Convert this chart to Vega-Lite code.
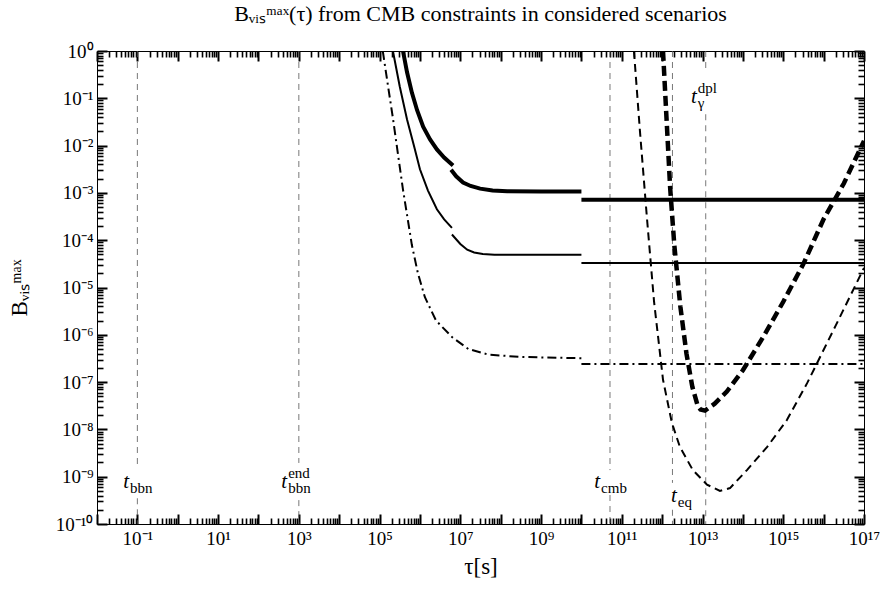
{
"$schema": "https://vega.github.io/schema/vega-lite/v6.json",
"width": 767, "height": 473, "autosize": "none",
"padding": {"left": 97, "top": 51, "right": 18, "bottom": 72},
"background": "white",
"title": {"text": "Bᵥᵢₛᵐᵃˣ(τ) from CMB constraints  in considered  scenarios", "font": "Liberation Serif", "fontSize": 22, "fontWeight": "normal", "color": "black", "anchor": "middle", "offset": 16},
"config": {
  "view": {"stroke": "black", "strokeWidth": 1},
  "axis": {"grid": false, "domain": false, "labelFont": "Liberation Serif", "labelFontSize": 19, "labelColor": "black", "titleFont": "Liberation Serif", "titleFontSize": 23, "titleFontWeight": "normal", "titleColor": "black", "labelOverlap": false, "labelFlush": false}
},
"datasets": {
  "vlines": [
    {"tau": 0.1, "B": 1, "B2": 1.78e-9}, {"tau": 0.1, "B": 3.5e-10, "B2": 1e-10},
    {"tau": 1000, "B": 1, "B2": 1.95e-9}, {"tau": 1000, "B": 3.2e-10, "B2": 1e-10},
    {"tau": 5.1e10, "B": 1, "B2": 1.38e-9}, {"tau": 5.1e10, "B": 4.1e-10, "B2": 1e-10},
    {"tau": 1.8e12, "B": 1, "B2": 7.4e-10}, {"tau": 1.8e12, "B": 2e-10, "B2": 1e-10},
    {"tau": 1.2e13, "B": 1, "B2": 0.41}, {"tau": 1.2e13, "B": 0.046, "B2": 1e-10}
  ],
  "labels": [
    {"tau": 0.062, "B": 5.75e-10, "sub": "bbn", "sup": ""},
    {"tau": 513, "B": 5.75e-10, "sub": "bbn", "sup": "end"},
    {"tau": 2.9e10, "B": 5.75e-10, "sub": "cmb", "sup": ""},
    {"tau": 2.3e12, "B": 2.95e-10, "sub": "eq", "sup": ""},
    {"tau": 7.2e12, "B": 0.081, "sub": "γ", "sup": "dpl"}
  ],
  "curves": [
    {"s": "s1", "seg": "a", "tau": 3.8e5, "B": 1},
    {"s": "s1", "seg": "a", "tau": 4.79e5, "B": 0.355},
    {"s": "s1", "seg": "a", "tau": 6.31e5, "B": 0.132},
    {"s": "s1", "seg": "a", "tau": 8.5e5, "B": 0.056},
    {"s": "s1", "seg": "a", "tau": 1.2e6, "B": 0.0251},
    {"s": "s1", "seg": "a", "tau": 1.78e6, "B": 0.0135},
    {"s": "s1", "seg": "a", "tau": 2.63e6, "B": 8.3e-3},
    {"s": "s1", "seg": "a", "tau": 3.98e6, "B": 5.6e-3},
    {"s": "s1", "seg": "a", "tau": 6.6e6, "B": 3.8e-3},
    {"s": "s1", "seg": "b", "tau": 5.9e6, "B": 3.1e-3},
    {"s": "s1", "seg": "b", "tau": 7.9e6, "B": 2.24e-3},
    {"s": "s1", "seg": "b", "tau": 1.17e7, "B": 1.66e-3},
    {"s": "s1", "seg": "b", "tau": 1.8e7, "B": 1.4e-3},
    {"s": "s1", "seg": "b", "tau": 3.1e7, "B": 1.23e-3},
    {"s": "s1", "seg": "b", "tau": 6.3e7, "B": 1.12e-3},
    {"s": "s1", "seg": "b", "tau": 1.45e8, "B": 1.08e-3},
    {"s": "s1", "seg": "b", "tau": 1e9, "B": 1.07e-3},
    {"s": "s1", "seg": "b", "tau": 1e10, "B": 1.07e-3},
    {"s": "s1", "seg": "c", "tau": 1e10, "B": 7.2e-4},
    {"s": "s1", "seg": "c", "tau": 1e17, "B": 7.2e-4},
    {"s": "s2", "seg": "a", "tau": 2.14e5, "B": 1},
    {"s": "s2", "seg": "a", "tau": 3.16e5, "B": 0.178},
    {"s": "s2", "seg": "a", "tau": 4.79e5, "B": 0.0355},
    {"s": "s2", "seg": "a", "tau": 7.08e5, "B": 0.01},
    {"s": "s2", "seg": "a", "tau": 1e6, "B": 3.16e-3},
    {"s": "s2", "seg": "a", "tau": 1.58e6, "B": 1.12e-3},
    {"s": "s2", "seg": "a", "tau": 2.63e6, "B": 4.5e-4},
    {"s": "s2", "seg": "a", "tau": 3.98e6, "B": 2.75e-4},
    {"s": "s2", "seg": "a", "tau": 6.2e6, "B": 1.82e-4},
    {"s": "s2", "seg": "b", "tau": 6.2e6, "B": 1.32e-4},
    {"s": "s2", "seg": "b", "tau": 1e7, "B": 8.3e-5},
    {"s": "s2", "seg": "b", "tau": 1.48e7, "B": 6.3e-5},
    {"s": "s2", "seg": "b", "tau": 2.2e7, "B": 5.5e-5},
    {"s": "s2", "seg": "b", "tau": 3.6e7, "B": 5.1e-5},
    {"s": "s2", "seg": "b", "tau": 7e7, "B": 4.95e-5},
    {"s": "s2", "seg": "b", "tau": 1.45e8, "B": 4.9e-5},
    {"s": "s2", "seg": "b", "tau": 1e9, "B": 4.9e-5},
    {"s": "s2", "seg": "b", "tau": 1e10, "B": 4.9e-5},
    {"s": "s2", "seg": "c", "tau": 1e10, "B": 3.3e-5},
    {"s": "s2", "seg": "c", "tau": 1e17, "B": 3.3e-5},
    {"s": "s3", "seg": "a", "tau": 1.2e5, "B": 1},
    {"s": "s3", "seg": "a", "tau": 1.58e5, "B": 0.209},
    {"s": "s3", "seg": "a", "tau": 2.14e5, "B": 0.038},
    {"s": "s3", "seg": "a", "tau": 2.82e5, "B": 7.1e-3},
    {"s": "s3", "seg": "a", "tau": 3.8e5, "B": 1.17e-3},
    {"s": "s3", "seg": "a", "tau": 6.31e5, "B": 7.9e-5},
    {"s": "s3", "seg": "a", "tau": 8.9e5, "B": 2e-5},
    {"s": "s3", "seg": "a", "tau": 1.32e6, "B": 6.3e-6},
    {"s": "s3", "seg": "a", "tau": 2.5e6, "B": 2e-6},
    {"s": "s3", "seg": "a", "tau": 6.3e6, "B": 8.9e-7},
    {"s": "s3", "seg": "a", "tau": 1.58e7, "B": 5e-7},
    {"s": "s3", "seg": "a", "tau": 5e7, "B": 3.8e-7},
    {"s": "s3", "seg": "a", "tau": 3.16e8, "B": 3.4e-7},
    {"s": "s3", "seg": "a", "tau": 1e10, "B": 3.2e-7},
    {"s": "s3", "seg": "c", "tau": 1e10, "B": 2.4e-7},
    {"s": "s3", "seg": "c", "tau": 1e17, "B": 2.4e-7},
    {"s": "s4", "seg": "a", "tau": 2e11, "B": 1},
    {"s": "s4", "seg": "a", "tau": 2.82e11, "B": 0.02},
    {"s": "s4", "seg": "a", "tau": 4.17e11, "B": 3.16e-4},
    {"s": "s4", "seg": "a", "tau": 6.3e11, "B": 5e-6},
    {"s": "s4", "seg": "a", "tau": 1.05e12, "B": 1.12e-7},
    {"s": "s4", "seg": "a", "tau": 1.74e12, "B": 1.38e-8},
    {"s": "s4", "seg": "a", "tau": 2.75e12, "B": 4.27e-9},
    {"s": "s4", "seg": "a", "tau": 5.75e12, "B": 1.38e-9},
    {"s": "s4", "seg": "a", "tau": 1.29e13, "B": 6.8e-10},
    {"s": "s4", "seg": "a", "tau": 2.7e13, "B": 5e-10},
    {"s": "s4", "seg": "a", "tau": 4.8e13, "B": 5.75e-10},
    {"s": "s4", "seg": "a", "tau": 1.26e14, "B": 1.38e-9},
    {"s": "s4", "seg": "a", "tau": 4e14, "B": 4.27e-9},
    {"s": "s4", "seg": "a", "tau": 1.23e15, "B": 1.58e-8},
    {"s": "s4", "seg": "a", "tau": 3.9e15, "B": 9.5e-8},
    {"s": "s4", "seg": "a", "tau": 2e16, "B": 1.58e-6},
    {"s": "s4", "seg": "a", "tau": 1e17, "B": 2.6e-5},
    {"s": "s5", "seg": "a", "tau": 1.05e12, "B": 1},
    {"s": "s5", "seg": "a", "tau": 1.26e12, "B": 0.05},
    {"s": "s5", "seg": "a", "tau": 1.58e12, "B": 1.26e-3},
    {"s": "s5", "seg": "a", "tau": 2e12, "B": 7.9e-5},
    {"s": "s5", "seg": "a", "tau": 2.82e12, "B": 4e-6},
    {"s": "s5", "seg": "a", "tau": 4e12, "B": 4e-7},
    {"s": "s5", "seg": "a", "tau": 5.6e12, "B": 7.9e-8},
    {"s": "s5", "seg": "a", "tau": 7.6e12, "B": 3.16e-8},
    {"s": "s5", "seg": "a", "tau": 8.9e12, "B": 2.63e-8},
    {"s": "s5", "seg": "a", "tau": 1.15e13, "B": 2.5e-8},
    {"s": "s5", "seg": "a", "tau": 2e13, "B": 3.5e-8},
    {"s": "s5", "seg": "a", "tau": 4e13, "B": 6.3e-8},
    {"s": "s5", "seg": "a", "tau": 1e14, "B": 1.78e-7},
    {"s": "s5", "seg": "a", "tau": 3.16e14, "B": 8.9e-7},
    {"s": "s5", "seg": "a", "tau": 1e15, "B": 5e-6},
    {"s": "s5", "seg": "a", "tau": 3.16e15, "B": 3.16e-5},
    {"s": "s5", "seg": "a", "tau": 1e16, "B": 2.8e-4},
    {"s": "s5", "seg": "a", "tau": 3.16e16, "B": 1.58e-3},
    {"s": "s5", "seg": "a", "tau": 1e17, "B": 1.26e-2}
  ]
},
"layer": [
  {
    "data": {"name": "vlines"},
    "mark": {"type": "rule", "color": "#555555", "strokeWidth": 0.8, "strokeDash": [6, 5]},
    "encoding": {
      "x": {"field": "tau", "type": "quantitative", "scale": {"type": "log", "domain": [0.01, 1e17], "nice": false},
        "axis": {"orient": "bottom", "title": "τ[s]", "titlePadding": 7, "offset": -10, "ticks": true, "tickColor": "black", "tickWidth": 2,
          "values": [1e-2,1e-1,1e0,1e1,1e2,1e3,1e4,1e5,1e6,1e7,1e8,1e9,1e10,1e11,1e12,1e13,1e14,1e15,1e16,1e17],
          "tickSize": 10, "labelPadding": 5,
          "labelExpr": "abs(round(log(datum.value)/LN10)) % 2 == 1 ? '10' + replace(replace(replace(replace(replace(replace(replace(replace(replace(replace(replace('' + round(log(datum.value)/LN10), regexp('-','g'), '⁻'), regexp('0','g'), '⁰'), regexp('1','g'), '¹'), regexp('2','g'), '²'), regexp('3','g'), '³'), regexp('4','g'), '⁴'), regexp('5','g'), '⁵'), regexp('6','g'), '⁶'), regexp('7','g'), '⁷'), regexp('8','g'), '⁸'), regexp('9','g'), '⁹') : ''"}},
      "y": {"field": "B", "type": "quantitative", "scale": {"type": "log", "domain": [1e-10, 1], "nice": false},
        "axis": {"orient": "left", "title": "Bᵥᵢₛᵐᵃˣ", "titlePadding": 24, "offset": -10, "ticks": true, "tickColor": "black", "tickWidth": 2,
          "values": [1e-10,1e-9,1e-8,1e-7,1e-6,1e-5,1e-4,1e-3,1e-2,1e-1,1],
          "tickSize": 10, "labelPadding": 4,
          "labelExpr": "'10' + replace(replace(replace(replace(replace(replace(replace(replace(replace(replace(replace('' + round(log(datum.value)/LN10), regexp('-','g'), '⁻'), regexp('0','g'), '⁰'), regexp('1','g'), '¹'), regexp('2','g'), '²'), regexp('3','g'), '³'), regexp('4','g'), '⁴'), regexp('5','g'), '⁵'), regexp('6','g'), '⁶'), regexp('7','g'), '⁷'), regexp('8','g'), '⁸'), regexp('9','g'), '⁹')"}},
      "y2": {"field": "B2"}
    }
  },
  {
    "data": {"name": "curves"},
    "transform": [{"filter": "datum.s == 's1'"}],
    "mark": {"type": "line", "color": "black", "strokeWidth": 4, "clip": true},
    "encoding": {
      "x": {"field": "tau", "type": "quantitative",
        "axis": {"orient": "bottom", "title": null, "labels": false, "ticks": true, "tickSize": 6, "offset": -6, "tickColor": "black", "tickWidth": 1.6,
          "values": [2e-2,3e-2,4e-2,5e-2,6e-2,7e-2,8e-2,9e-2,2e-1,3e-1,4e-1,5e-1,6e-1,7e-1,8e-1,9e-1,2e0,3e0,4e0,5e0,6e0,7e0,8e0,9e0,2e1,3e1,4e1,5e1,6e1,7e1,8e1,9e1,2e2,3e2,4e2,5e2,6e2,7e2,8e2,9e2,2e3,3e3,4e3,5e3,6e3,7e3,8e3,9e3,2e4,3e4,4e4,5e4,6e4,7e4,8e4,9e4,2e5,3e5,4e5,5e5,6e5,7e5,8e5,9e5,2e6,3e6,4e6,5e6,6e6,7e6,8e6,9e6,2e7,3e7,4e7,5e7,6e7,7e7,8e7,9e7,2e8,3e8,4e8,5e8,6e8,7e8,8e8,9e8,2e9,3e9,4e9,5e9,6e9,7e9,8e9,9e9,2e10,3e10,4e10,5e10,6e10,7e10,8e10,9e10,2e11,3e11,4e11,5e11,6e11,7e11,8e11,9e11,2e12,3e12,4e12,5e12,6e12,7e12,8e12,9e12,2e13,3e13,4e13,5e13,6e13,7e13,8e13,9e13,2e14,3e14,4e14,5e14,6e14,7e14,8e14,9e14,2e15,3e15,4e15,5e15,6e15,7e15,8e15,9e15,2e16,3e16,4e16,5e16,6e16,7e16,8e16,9e16]}},
      "y": {"field": "B", "type": "quantitative",
        "axis": {"orient": "left", "title": null, "labels": false, "ticks": true, "tickSize": 6, "offset": -6, "tickColor": "black", "tickWidth": 1.6,
          "values": [2e-10,3e-10,4e-10,5e-10,6e-10,7e-10,8e-10,9e-10,2e-9,3e-9,4e-9,5e-9,6e-9,7e-9,8e-9,9e-9,2e-8,3e-8,4e-8,5e-8,6e-8,7e-8,8e-8,9e-8,2e-7,3e-7,4e-7,5e-7,6e-7,7e-7,8e-7,9e-7,2e-6,3e-6,4e-6,5e-6,6e-6,7e-6,8e-6,9e-6,2e-5,3e-5,4e-5,5e-5,6e-5,7e-5,8e-5,9e-5,2e-4,3e-4,4e-4,5e-4,6e-4,7e-4,8e-4,9e-4,2e-3,3e-3,4e-3,5e-3,6e-3,7e-3,8e-3,9e-3,2e-2,3e-2,4e-2,5e-2,6e-2,7e-2,8e-2,9e-2,2e-1,3e-1,4e-1,5e-1,6e-1,7e-1,8e-1,9e-1]}},
      "detail": {"field": "seg"}
    }
  },
  {
    "data": {"name": "curves"},
    "transform": [{"filter": "datum.s == 's2'"}],
    "mark": {"type": "line", "color": "black", "strokeWidth": 2, "clip": true},
    "encoding": {
      "x": {"field": "tau", "type": "quantitative",
        "axis": {"orient": "top", "title": null, "labels": false, "ticks": true, "tickSize": 10, "offset": -10, "tickColor": "black", "tickWidth": 2,
          "values": [1e-2,1e-1,1e0,1e1,1e2,1e3,1e4,1e5,1e6,1e7,1e8,1e9,1e10,1e11,1e12,1e13,1e14,1e15,1e16,1e17]}},
      "y": {"field": "B", "type": "quantitative",
        "axis": {"orient": "right", "title": null, "labels": false, "ticks": true, "tickSize": 10, "offset": -10, "tickColor": "black", "tickWidth": 2,
          "values": [1e-10,1e-9,1e-8,1e-7,1e-6,1e-5,1e-4,1e-3,1e-2,1e-1,1]}},
      "detail": {"field": "seg"}
    }
  },
  {
    "data": {"name": "curves"},
    "transform": [{"filter": "datum.s == 's3'"}],
    "mark": {"type": "line", "color": "black", "strokeWidth": 2, "strokeDash": [9, 4, 2, 4], "clip": true},
    "encoding": {
      "x": {"field": "tau", "type": "quantitative",
        "axis": {"orient": "top", "title": null, "labels": false, "ticks": true, "tickSize": 6, "offset": -6, "tickColor": "black", "tickWidth": 1.6,
          "values": [2e-2,3e-2,4e-2,5e-2,6e-2,7e-2,8e-2,9e-2,2e-1,3e-1,4e-1,5e-1,6e-1,7e-1,8e-1,9e-1,2e0,3e0,4e0,5e0,6e0,7e0,8e0,9e0,2e1,3e1,4e1,5e1,6e1,7e1,8e1,9e1,2e2,3e2,4e2,5e2,6e2,7e2,8e2,9e2,2e3,3e3,4e3,5e3,6e3,7e3,8e3,9e3,2e4,3e4,4e4,5e4,6e4,7e4,8e4,9e4,2e5,3e5,4e5,5e5,6e5,7e5,8e5,9e5,2e6,3e6,4e6,5e6,6e6,7e6,8e6,9e6,2e7,3e7,4e7,5e7,6e7,7e7,8e7,9e7,2e8,3e8,4e8,5e8,6e8,7e8,8e8,9e8,2e9,3e9,4e9,5e9,6e9,7e9,8e9,9e9,2e10,3e10,4e10,5e10,6e10,7e10,8e10,9e10,2e11,3e11,4e11,5e11,6e11,7e11,8e11,9e11,2e12,3e12,4e12,5e12,6e12,7e12,8e12,9e12,2e13,3e13,4e13,5e13,6e13,7e13,8e13,9e13,2e14,3e14,4e14,5e14,6e14,7e14,8e14,9e14,2e15,3e15,4e15,5e15,6e15,7e15,8e15,9e15,2e16,3e16,4e16,5e16,6e16,7e16,8e16,9e16]}},
      "y": {"field": "B", "type": "quantitative",
        "axis": {"orient": "right", "title": null, "labels": false, "ticks": true, "tickSize": 6, "offset": -6, "tickColor": "black", "tickWidth": 1.6,
          "values": [2e-10,3e-10,4e-10,5e-10,6e-10,7e-10,8e-10,9e-10,2e-9,3e-9,4e-9,5e-9,6e-9,7e-9,8e-9,9e-9,2e-8,3e-8,4e-8,5e-8,6e-8,7e-8,8e-8,9e-8,2e-7,3e-7,4e-7,5e-7,6e-7,7e-7,8e-7,9e-7,2e-6,3e-6,4e-6,5e-6,6e-6,7e-6,8e-6,9e-6,2e-5,3e-5,4e-5,5e-5,6e-5,7e-5,8e-5,9e-5,2e-4,3e-4,4e-4,5e-4,6e-4,7e-4,8e-4,9e-4,2e-3,3e-3,4e-3,5e-3,6e-3,7e-3,8e-3,9e-3,2e-2,3e-2,4e-2,5e-2,6e-2,7e-2,8e-2,9e-2,2e-1,3e-1,4e-1,5e-1,6e-1,7e-1,8e-1,9e-1]}},
      "detail": {"field": "seg"}
    }
  },
  {
    "data": {"name": "curves"},
    "transform": [{"filter": "datum.s == 's4'"}],
    "mark": {"type": "line", "color": "black", "strokeWidth": 2, "strokeDash": [8, 5], "clip": true},
    "encoding": {
      "x": {"field": "tau", "type": "quantitative", "axis": null},
      "y": {"field": "B", "type": "quantitative", "axis": null},
      "detail": {"field": "seg"}
    }
  },
  {
    "data": {"name": "curves"},
    "transform": [{"filter": "datum.s == 's5'"}],
    "mark": {"type": "line", "color": "black", "strokeWidth": 4.5, "strokeDash": [10, 5], "clip": true},
    "encoding": {
      "x": {"field": "tau", "type": "quantitative", "axis": null},
      "y": {"field": "B", "type": "quantitative", "axis": null},
      "detail": {"field": "seg"}
    }
  },
  {
    "data": {"name": "labels"},
    "mark": {"type": "text", "text": "t", "font": "Liberation Serif", "fontStyle": "italic", "fontSize": 21, "align": "right", "baseline": "alphabetic", "color": "black"},
    "encoding": {
      "x": {"field": "tau", "type": "quantitative", "axis": null},
      "y": {"field": "B", "type": "quantitative", "axis": null}
    }
  },
  {
    "data": {"name": "labels"},
    "mark": {"type": "text", "font": "Liberation Serif", "fontSize": 15, "align": "left", "baseline": "alphabetic", "dx": 1, "dy": 5, "color": "black"},
    "encoding": {
      "x": {"field": "tau", "type": "quantitative", "axis": null},
      "y": {"field": "B", "type": "quantitative", "axis": null},
      "text": {"field": "sub"}
    }
  },
  {
    "data": {"name": "labels"},
    "transform": [{"filter": "datum.sup != ''"}],
    "mark": {"type": "text", "font": "Liberation Serif", "fontSize": 15, "align": "left", "baseline": "alphabetic", "dx": 1, "dy": -10, "color": "black"},
    "encoding": {
      "x": {"field": "tau", "type": "quantitative", "axis": null},
      "y": {"field": "B", "type": "quantitative", "axis": null},
      "text": {"field": "sup"}
    }
  }
],
"resolve": {"axis": {"x": "independent", "y": "independent"}}
}
